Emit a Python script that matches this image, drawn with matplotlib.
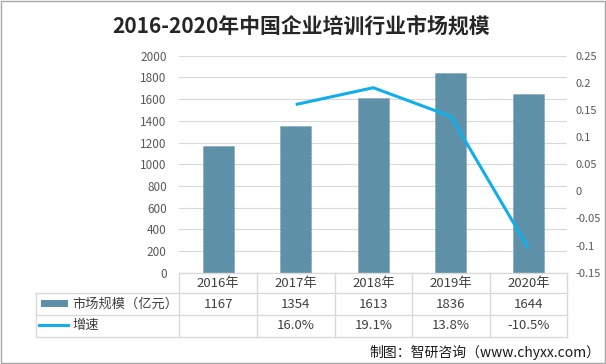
import matplotlib
matplotlib.use("Agg")
import matplotlib.pyplot as plt
import matplotlib.transforms as mtransforms
from matplotlib.lines import Line2D
from matplotlib.patches import Rectangle

plt.rcParams['font.family'] = ['Noto Sans CJK SC', 'DejaVu Sans']

# data
years = ['2016年', '2017年', '2018年', '2019年', '2020年']
market_size = [1167, 1354, 1613, 1836, 1644]
growth = [None, 0.160, 0.191, 0.138, -0.105]
left_ticks = list(range(0, 2001, 200))
right_ticks = [-0.15, -0.1, -0.05, 0, 0.05, 0.1, 0.15, 0.2, 0.25]
right_labels = ['-0.15', '-0.1', '-0.05', '0', '0.05', '0.1', '0.15', '0.2', '0.25']

W, H = 606, 364
BAR_C = '#5E91A8'
LINE_C = '#12AEEC'
GRID_C = '#d9d9d9'
TXT_C = '#595959'

fig = plt.figure(figsize=(W / 100, H / 100), dpi=100)
fig.patch.set_facecolor('white')


def fy(py):
    return 1 - py / H


def fx(px):
    return px / W


x0, x1 = 179.3, 567.3
ytop, ybot = 55.7, 272.7
ax = fig.add_axes([fx(x0), fy(ybot), (x1 - x0) / W, (ybot - ytop) / H])
xs = list(range(len(years)))
ax.bar(xs, market_size, width=0.4, color=BAR_C, edgecolor='#4d7d95',
       linestyle=':', linewidth=0.5, zorder=3)
ax.set_xlim(-0.5, len(years) - 0.5)
ax.set_ylim(0, 2000)
ax.set_yticks(left_ticks)
ax.set_yticklabels([str(t) for t in left_ticks], fontsize=8.5, color=TXT_C)
ax.yaxis.grid(True, color=GRID_C, linewidth=0.8, zorder=0)
ax.set_xticks([])
ax.tick_params(axis='y', length=0, pad=9)
for s in ax.spines.values():
    s.set_visible(False)

ax2 = ax.twinx()
gx = [x for x, g in zip(xs, growth) if g is not None]
gy = [g for g in growth if g is not None]
ax2.plot(gx, gy, color=LINE_C, linewidth=2.2, zorder=4, solid_capstyle='butt')
ax2.set_ylim(-0.15, 0.25)
ax2.set_yticks(right_ticks)
ax2.set_yticklabels(right_labels, fontsize=8, color=TXT_C)
ax2.tick_params(axis='y', length=0, pad=6)
for s in ax2.spines.values():
    s.set_visible(False)

# data table below the chart
tr = mtransforms.blended_transform_factory(ax.transData, fig.transFigure)
ftr = fig.transFigure
r0, r1, r2, r3 = 272.7, 293.3, 315.3, 336.5
tbl_left = 36
lk = dict(color=GRID_C, linewidth=1.0, zorder=5)
edges = [x - 0.5 for x in xs] + [xs[-1] + 0.5]
# horizontal lines
fig.add_artist(Line2D([-0.5, edges[-1]], [fy(r0), fy(r0)], transform=tr, **lk))
for r in (r1, r2, r3):
    fig.add_artist(Line2D([fx(tbl_left), fx(x1)], [fy(r), fy(r)], transform=ftr, **lk))
# vertical lines
for e in edges:
    fig.add_artist(Line2D([e, e], [fy(r0), fy(r3)], transform=tr, **lk))
fig.add_artist(Line2D([fx(tbl_left), fx(tbl_left)], [fy(r1), fy(r3)], transform=ftr, **lk))

fs = 9.5
for x, yr, v, g in zip(xs, years, market_size, growth):
    fig.text(x, fy((r0 + r1) / 2), yr, transform=tr, ha='center', va='center',
             fontsize=fs, color='#404040')
    fig.text(x, fy((r1 + r2) / 2), str(v), transform=tr, ha='center', va='center',
             fontsize=fs, color='#404040')
    if g is not None:
        fig.text(x, fy((r2 + r3) / 2), f'{g * 100:.1f}%', transform=tr, ha='center',
                 va='center', fontsize=fs, color='#404040')

# legend keys in table
fig.add_artist(Rectangle((fx(41), fy(306.5)), (68 - 41) / W, 7 / H, transform=ftr,
                         facecolor=BAR_C, edgecolor='none', zorder=6))
fig.add_artist(Line2D([fx(39), fx(68)], [fy(325), fy(325)], transform=ftr,
                      color=LINE_C, linewidth=2.2, zorder=6))
fig.text(fx(72), fy((r1 + r2) / 2), '市场规模（亿元）', ha='left', va='center',
         fontsize=fs, color='#404040')
fig.text(fx(72), fy((r2 + r3) / 2 - 1), '增速', ha='left', va='center',
         fontsize=fs, color='#404040')

# title and footer
fig.text(0.497, fy(26), '2016-2020年中国企业培训行业市场规模', ha='center', va='center',
         fontsize=15, fontweight='bold', color='#262626')
fig.text(fx(600), fy(352), '制图：智研咨询（www.chyxx.com）', ha='right', va='center',
         fontsize=10, color='#1a1a1a')

# outer border
fig.add_artist(Rectangle((0.001, 0.002), 0.997, 0.995, transform=ftr, fill=False,
                         edgecolor='#a6a6a6', linewidth=1.0))

fig.savefig('out.png', dpi=100)
